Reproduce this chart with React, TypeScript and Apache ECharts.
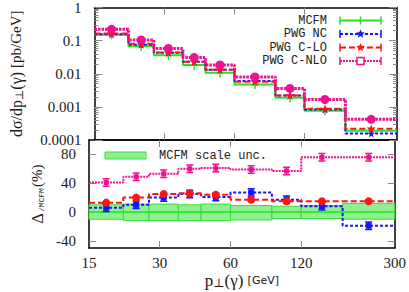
import React, { useEffect, useRef } from "react";
import * as echarts from "echarts";

// ---- data ----
const binEdges = [15, 21, 27, 36, 45, 60, 90, 120, 180, 300];
const xTickValues = [15, 30, 60, 120, 300];
const yTopDecades = [0.0001, 0.001, 0.01, 0.1, 1];
const yBottomTicks = [-40, 0, 40, 80];
const seriesNames = ["MCFM", "PWG NC", "PWG C-LO", "PWG C-NLO"];
const bandName = "MCFM scale unc.";

// top panel: dσ/dp⊥ [pb/GeV]
const mcfm = [0.15, 0.068, 0.036, 0.0185, 0.0108, 0.0047, 0.0019, 0.00077, 0.00019];
const pwgNC = [0.157, 0.075, 0.043, 0.023, 0.0131, 0.006, 0.0022, 0.00083, 0.000156];
const pwgCLO = [0.164, 0.08, 0.044, 0.0232, 0.0133, 0.0057, 0.0022, 0.00088, 0.00022];
const pwgCNLO = [0.22, 0.105, 0.058, 0.031, 0.0185, 0.008, 0.0036, 0.00167, 0.00042];

// bottom panel: deviation from MCFM [%]
const dNC = [6, 10, 20, 25, 21, 27, 17, 8, -19];
const dCLO = [13, 20, 25, 26, 24, 17, 15, 15, 15];
const dCNLO = [41, 49, 53, 60, 61, 59, 57, 76, 76];
const bandHi = [10, 11, 11, 10, 11, 9, 8, 9, 12];
const bandLo = [-10, -12, -12, -12, -12, -11, -9, -9, -10];

// ---- styling ----
const GREEN = "#22e322";
const BAND_FILL = "#8ef08e";
const BAND_STROKE = "#3cdc3c";
const BLUE = "#1414ff";
const RED = "#ff1414";
const PINK = "#ee1290";
const SERIF = '"Liberation Serif", "DejaVu Serif", serif';
const MONO = '"Liberation Mono", "DejaVu Sans Mono", monospace';
const SANS = '"DejaVu Sans", "Liberation Sans", sans-serif';
const TICK = "#888";
const INK = "#1a1a1a";

const STAR = "path://M50,0L61,35L98,35L68,57L79,91L50,70L21,91L32,57L2,35L39,35Z";
const IBEAM = "path://M0,0H7V1.5H4.25V7.5H7V9H0V7.5H2.75V1.5H0Z";

const L = (v: number) => Math.log10(v);
const ident = (v: number) => v;
const centers = binEdges.slice(0, -1).map((e, i) => (L(e) + L(binEdges[i + 1])) / 2);

function steps(vals: number[], f: (v: number) => number) {
  const p = vals.map((v, i) => [L(binEdges[i]), f(v)]);
  p.push([L(binEdges[binEdges.length - 1]), f(vals[vals.length - 1])]);
  return p;
}
function pts(vals: number[], f: (v: number) => number) {
  return vals.map((v, i) => [centers[i], f(v)]);
}

function stepLine(data: number[][], color: string, dash: any, width: number, xi: number, yi: number, z: number) {
  return {
    type: "line",
    data,
    step: "end",
    symbol: "none",
    showSymbol: false,
    xAxisIndex: xi,
    yAxisIndex: yi,
    z,
    silent: true,
    lineStyle: { color, width, type: dash },
  };
}
function marks(data: number[][], symbol: string, size: any, color: string, xi: number, yi: number, z: number) {
  return {
    type: "scatter",
    data,
    symbol,
    symbolSize: size,
    xAxisIndex: xi,
    yAxisIndex: yi,
    z,
    silent: true,
    itemStyle: { color, opacity: 1 },
  };
}

const minorTop: number[] = [];
yTopDecades.slice(0, -1).forEach((d) => {
  for (let k = 2; k <= 9; k++) minorTop.push(L(d * k));
});

const frame = { show: true, onZero: false, lineStyle: { color: "#000", width: 1.5 } };
const noLine = { show: false, onZero: false };
const ticks = (len: number, values?: number[]) => ({
  show: true,
  inside: true,
  length: len,
  lineStyle: { color: TICK, width: 1 },
  ...(values ? { customValues: values } : {}),
});
const noLabel = { show: false };
const innerXTicks = xTickValues.slice(1, -1).map(L);

function starPoints(cx: number, cy: number, r: number) {
  const out: number[][] = [];
  for (let i = 0; i < 10; i++) {
    const a = -Math.PI / 2 + (i * Math.PI) / 5;
    const rr = i % 2 === 0 ? r : r * 0.45;
    out.push([cx + rr * Math.cos(a), cy + rr * Math.sin(a)]);
  }
  return out;
}

function legendGraphics() {
  const els: any[] = [];
  const colors = [GREEN, BLUE, RED, PINK];
  const dashes: any[] = [null, [3, 2], [6, 3], [2, 1]];
  const ys = [20.5, 34, 47.5, 61];
  const x1 = 340;
  const x2 = 381;
  const xc = (x1 + x2) / 2;
  seriesNames.forEach((name, i) => {
    const y = ys[i];
    els.push({
      type: "text",
      x: 327,
      y,
      style: { text: name, align: "right", verticalAlign: "middle", font: `12px ${MONO}`, fill: "#222" },
    });
    els.push({
      type: "line",
      shape: { x1, y1: y, x2, y2: y },
      style: { stroke: colors[i], lineWidth: 2, lineDash: dashes[i] },
    });
    [x1, x2].forEach((x) =>
      els.push({ type: "line", shape: { x1: x, y1: y - 4, x2: x, y2: y + 4 }, style: { stroke: colors[i], lineWidth: 1.5 } })
    );
    if (i === 0) {
      els.push({ type: "line", shape: { x1: xc, y1: y - 4, x2: xc, y2: y + 4 }, style: { stroke: colors[i], lineWidth: 1.5 } });
    } else if (i === 1 || i === 2) {
      els.push({ type: "polygon", shape: { points: starPoints(xc, y, 4.5) }, style: { fill: colors[i] } });
    } else {
      els.push({ type: "rect", shape: { x: xc - 3.5, y: y - 3.5, width: 7, height: 7 }, style: { fill: "#fff", stroke: colors[i], lineWidth: 1.5 } });
    }
  });
  els.push({
    type: "rect",
    shape: { x: 105, y: 152, width: 41, height: 7 },
    style: { fill: BAND_FILL, stroke: BAND_STROKE, lineWidth: 1 },
  });
  els.push({
    type: "text",
    x: 159,
    y: 155.5,
    style: { text: bandName, align: "left", verticalAlign: "middle", font: `12px ${MONO}`, fill: "#222" },
  });
  return els;
}

export default function App() {
  const ref = useRef<HTMLDivElement>(null);
  useEffect(() => {
    if (!ref.current) return;
    const chart = echarts.init(ref.current, undefined, { renderer: "svg" });
    const xMin = L(binEdges[0]);
    const xMax = L(binEdges[binEdges.length - 1]);
    const labelStyle = { fontFamily: SERIF, fontSize: 15, color: INK };

    const bandData = bandHi.map((h, i) => [L(binEdges[i]), L(binEdges[i + 1]), bandLo[i], h]);

    const option: any = {
      animation: false,
      backgroundColor: "#fff",
      grid: [
        { left: 89, right: 12, top: 5, height: 135 },
        { left: 89, right: 12, top: 140, height: 108 },
      ],
      xAxis: [
        { gridIndex: 0, type: "value", min: xMin, max: xMax, position: "bottom", axisLine: frame, axisTick: ticks(7, innerXTicks), axisLabel: noLabel, splitLine: { show: false } },
        { gridIndex: 0, type: "value", min: xMin, max: xMax, position: "top", axisLine: frame, axisTick: ticks(7, innerXTicks), axisLabel: noLabel, splitLine: { show: false } },
        {
          gridIndex: 1, type: "value", min: xMin, max: xMax, position: "bottom", axisLine: frame,
          axisTick: ticks(7, innerXTicks),
          axisLabel: { ...labelStyle, margin: 7, customValues: xTickValues.map(L), showMinLabel: true, showMaxLabel: true, formatter: (v: number) => String(Math.round(Math.pow(10, v))) },
          splitLine: { show: false },
          name: "{a|p}{s|⊥}{a|(γ) }{g|[GeV]}",
          nameLocation: "middle",
          nameGap: 23,
          nameTextStyle: {
            rich: {
              a: { fontFamily: SERIF, fontSize: 17, color: INK },
              s: { fontFamily: SERIF, fontSize: 12, color: INK, verticalAlign: "bottom", padding: [6, 0, 0, 0] },
              g: { fontFamily: SANS, fontSize: 11, color: INK },
            },
          },
        },
        { gridIndex: 1, type: "value", min: xMin, max: xMax, position: "top", axisLine: frame, axisTick: ticks(7, innerXTicks), axisLabel: noLabel, splitLine: { show: false } },
      ],
      yAxis: [
        {
          gridIndex: 0, type: "value", min: -4, max: 0, interval: 1, position: "left", axisLine: frame,
          axisTick: ticks(8),
          axisLabel: { ...labelStyle, margin: 13, formatter: (v: number) => String(Number(Math.pow(10, v).toPrecision(1))) },
          splitLine: { show: false },
          name: "{a|dσ/dp}{s|⊥}{a|(γ) }{m|[pb/GeV]}",
          nameLocation: "middle",
          nameRotate: 90,
          nameGap: 70,
          nameTextStyle: {
            rich: {
              a: { fontFamily: SERIF, fontSize: 16, color: INK },
              s: { fontFamily: SERIF, fontSize: 11, color: INK, verticalAlign: "bottom", padding: [6, 0, 0, 0] },
              m: { fontFamily: SERIF, fontSize: 15, color: INK },
            },
          },
        },
        { gridIndex: 0, type: "value", min: -4, max: 0, position: "left", axisLine: noLine, axisTick: ticks(4, minorTop), axisLabel: noLabel, splitLine: { show: false } },
        { gridIndex: 0, type: "value", min: -4, max: 0, interval: 1, position: "right", axisLine: frame, axisTick: ticks(8), axisLabel: noLabel, splitLine: { show: false } },
        { gridIndex: 0, type: "value", min: -4, max: 0, position: "right", axisLine: noLine, axisTick: ticks(4, minorTop), axisLabel: noLabel, splitLine: { show: false } },
        {
          gridIndex: 1, type: "value", min: -50, max: 100, position: "left", axisLine: frame,
          axisTick: ticks(7, yBottomTicks),
          axisLabel: { ...labelStyle, margin: 13, customValues: yBottomTicks, formatter: (v: number) => String(v) },
          splitLine: { show: false },
          name: "{d|Δ}{s|/MCFM}{a|(%)}",
          nameLocation: "middle",
          nameRotate: 90,
          nameGap: 41,
          nameTextStyle: {
            rich: {
              d: { fontFamily: SERIF, fontSize: 16, color: INK },
              s: { fontFamily: MONO, fontSize: 8, color: INK, verticalAlign: "bottom", padding: [6, 1, 0, 1] },
              a: { fontFamily: SERIF, fontSize: 15, color: INK },
            },
          },
        },
        { gridIndex: 1, type: "value", min: -50, max: 100, position: "right", axisLine: frame, axisTick: ticks(7, yBottomTicks), axisLabel: noLabel, splitLine: { show: false } },
      ],
      series: [
        // top panel
        stepLine(steps(mcfm, L), GREEN, "solid", 2, 0, 0, 2),
        stepLine(steps(pwgNC, L), BLUE, [3, 2], 2, 0, 0, 3),
        stepLine(steps(pwgCLO, L), RED, [6, 3], 2, 0, 0, 4),
        stepLine(steps(pwgCNLO, L), PINK, [2.5, 1], 3, 0, 0, 5),
        marks(pts(mcfm, L), "rect", [1.5, 9], GREEN, 0, 0, 6),
        marks(pts(pwgNC, L), STAR, 8, BLUE, 0, 0, 6),
        marks(pts(pwgCLO, L), STAR, 9, RED, 0, 0, 7),
        marks(pts(pwgCNLO, L), "circle", 9, PINK, 0, 0, 8),
        // bottom panel
        {
          type: "custom",
          coordinateSystem: "cartesian2d",
          xAxisIndex: 2,
          yAxisIndex: 4,
          z: 1,
          silent: true,
          data: bandData,
          encode: { x: [0, 1], y: [2, 3] },
          renderItem: (_p: any, api: any) => {
            const a = api.coord([api.value(0), api.value(3)]);
            const b = api.coord([api.value(1), api.value(2)]);
            return {
              type: "rect",
              shape: { x: a[0], y: a[1], width: b[0] - a[0], height: b[1] - a[1] },
              style: { fill: BAND_FILL, stroke: BAND_STROKE, lineWidth: 1 },
            };
          },
        },
        stepLine([[xMin, 0], [xMax, 0]], GREEN, "solid", 1.5, 2, 4, 2),
        stepLine(steps(dNC, ident), BLUE, [3, 2], 2, 2, 4, 3),
        stepLine(steps(dCLO, ident), RED, [6, 3], 2, 2, 4, 4),
        stepLine(steps(dCNLO, ident), PINK, [2, 1], 2, 2, 4, 5),
        marks(pts(dNC, ident), IBEAM, [7, 9], BLUE, 2, 4, 6),
        marks(pts(dNC, ident), "rect", [6, 6], BLUE, 2, 4, 6),
        marks(pts(dCLO, ident), "circle", 8, RED, 2, 4, 7),
        marks(pts(dCNLO, ident), IBEAM, [7, 9], PINK, 2, 4, 8),
        marks(pts(dCNLO, ident), "rect", [5, 5], PINK, 2, 4, 8),
      ],
      graphic: { elements: legendGraphics() },
    };
    chart.setOption(option);
    return () => chart.dispose();
  }, []);
  return (
    <div
      ref={ref}
      style={{ position: "fixed", left: 0, top: 0, width: 409, height: 292, background: "#fff" }}
    />
  );
}
